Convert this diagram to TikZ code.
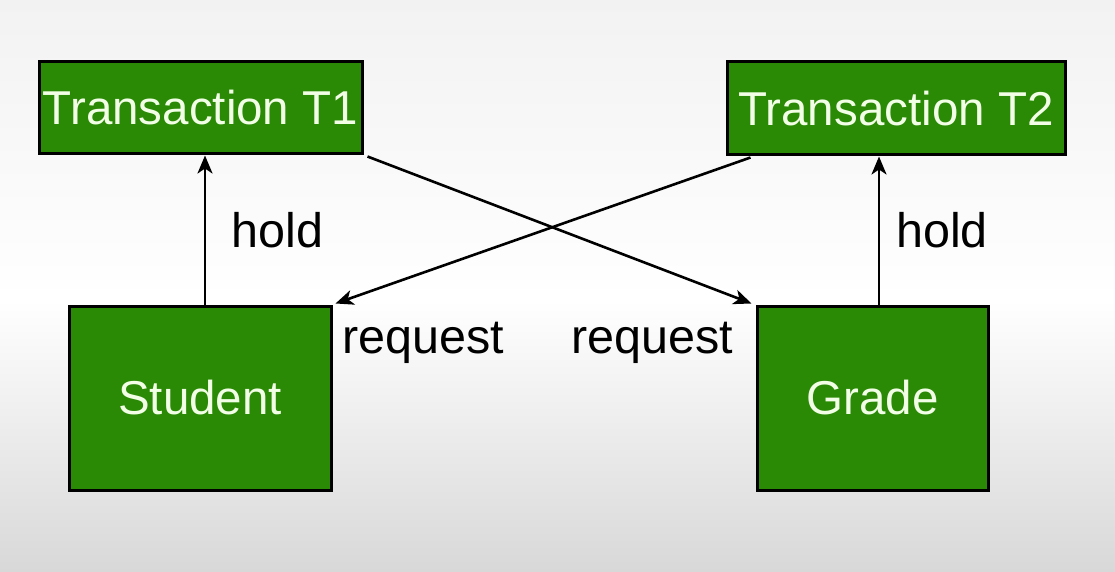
\documentclass[tikz,border=0pt]{standalone}
\usepackage{fontspec}
\setmainfont{Liberation Sans}
\usetikzlibrary{arrows.meta}
\definecolor{boxgreen}{HTML}{2A8A06}
\definecolor{boxtext}{HTML}{F2FFE6}
\definecolor{bgtop}{HTML}{F2F2F2}
\definecolor{bgbot}{HTML}{D8D8D8}
\tikzset{
  greenbox/.style={draw=black, line width=3pt, fill=boxgreen, text=boxtext,
    inner sep=0pt, font=\fontsize{47.5}{56}\selectfont},
  arr/.style={draw=black, line width=2.6pt, -{Stealth[length=18pt,width=15pt,inset=5pt]}},
  lbl/.style={anchor=base, inner sep=0pt, text=black, font=\fontsize{48.5}{58}\selectfont}
}
\begin{document}
\begin{tikzpicture}[x=1pt,y=-1pt]
\useasboundingbox (0,0) rectangle (1115,572);
\shade[top color=bgtop, bottom color=white] (0,0) rectangle (1115,300);
\shade[top color=white, bottom color=bgbot] (0,300) rectangle (1115,572);

\node[greenbox, minimum width=323pt, minimum height=92pt] (T1) at (200.5,108) {Transaction T1};
\node[greenbox, minimum width=338pt, minimum height=93pt] (T2) at (896,108.5) {Transaction T2};
\node[greenbox, minimum width=262pt, minimum height=184pt] (S) at (200,398) {Student};
\node[greenbox, minimum width=231pt, minimum height=184pt] (G) at (872.5,398) {Grade};

\draw[arr] ([xshift=5pt]S.north) -- ([xshift=5pt]S.north |- T1.south);
\draw[arr] ([xshift=6.5pt]G.north) -- ([xshift=6.5pt]G.north |- T2.south);
\draw[arr] ([xshift=4pt,yshift=-1pt]T1.south east) -- ([xshift=-4pt,yshift=1pt]G.north west);
\draw[arr] ([xshift=25pt,yshift=-1pt]T2.south west) -- ([xshift=3pt,yshift=1pt]S.north east);

\node[lbl] (h1) at (277.5,247) {hold};
\node[lbl] (h2) at (942,247) {hold};
\node[lbl] (r1) at (423,353) {request};
\node[lbl] (r2) at (652.5,353) {request};
\end{tikzpicture}
\end{document}
